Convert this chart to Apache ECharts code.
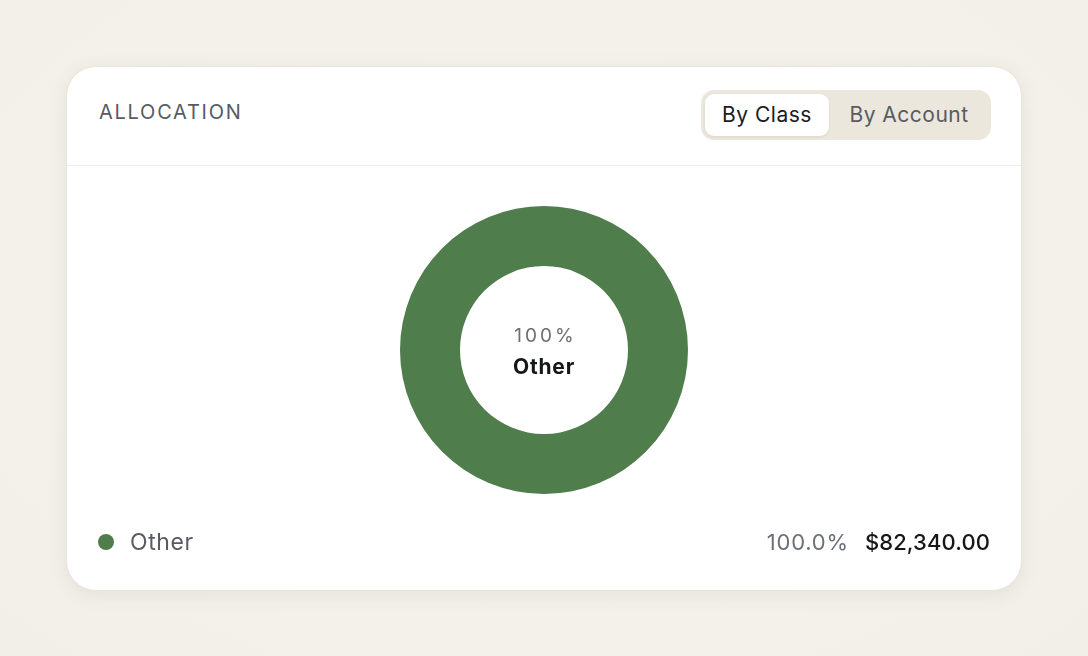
<!DOCTYPE html>
<html>
<head>
<meta charset="utf-8">
<script src="https://cdn.jsdelivr.net/npm/echarts@6/dist/echarts.min.js"></script>
<style>
  html,body{margin:0;padding:0;width:1088px;height:656px;overflow:hidden;
    background:radial-gradient(ellipse at 50% 45%, #f6f4ee 0%, #f1efe7 100%);
    font-family:Inter,"Noto Sans",sans-serif;}
  .card{position:absolute;left:66px;top:66px;width:954px;height:523px;background:#fff;
    border:1px solid #e9e5db;border-radius:30px;box-shadow:0 4px 18px rgba(120,110,80,0.10);}
  .hdr{position:absolute;left:0;top:0;width:100%;height:98px;border-bottom:1.5px solid #f0ede6;}
  .title{position:absolute;left:32px;top:33px;font-size:20px;letter-spacing:1.75px;color:#575b63;font-weight:400;}
  .toggle{position:absolute;left:634px;top:23px;width:290px;height:50px;background:#ece7dd;border-radius:13px;}
  .tab{position:absolute;top:4px;height:42px;line-height:42px;font-size:21px;text-align:center;letter-spacing:0.5px;}
  .t1{left:4px;width:124px;background:#fff;border-radius:9px;color:#1b1c1e;box-shadow:0 1px 3px rgba(0,0,0,0.08);}
  .t2{left:130px;width:156px;color:#575b63;}
  #chart{position:absolute;left:0;top:0;width:1088px;height:656px;}
  .center{position:absolute;left:444px;top:320px;width:200px;text-align:center;pointer-events:none;}
  .cp{font-size:19px;letter-spacing:3px;color:#6b6f76;line-height:32px;padding-left:3px;}
  .cn{font-size:21px;font-weight:700;letter-spacing:0.8px;color:#16171a;line-height:30px;}
  .leg{position:absolute;left:98px;top:526px;width:892px;height:32px;font-size:22px;line-height:32px;}
  .dot{position:absolute;left:0;top:8px;width:16px;height:16px;border-radius:50%;}
  .lname{position:absolute;left:32px;top:0;color:#575b63;font-size:23px;letter-spacing:0.6px;}
  .lright{position:absolute;right:0;top:0;}
  .lpct{color:#6b6f76;margin-right:16px;letter-spacing:0.8px;}
  .lval{color:#16171a;font-weight:500;letter-spacing:0.1px;}
</style>
</head>
<body>
<div class="card">
  <div class="hdr">
    <div class="title">ALLOCATION</div>
    <div class="toggle"><div class="tab t1">By Class</div><div class="tab t2">By Account</div></div>
  </div>
</div>
<div id="chart"></div>
<div class="center" id="center"></div>
<div class="leg" id="leg"></div>
<script>
const categories = ["Other"];
const values = [82340.00];
const colors = ["#4f7d4b"];

const total = values.reduce((a,b)=>a+b,0);
const leg = document.getElementById('leg');
categories.forEach((c,i)=>{
  const pct = (values[i]/total*100).toFixed(1)+'%';
  const val = '$'+values[i].toLocaleString('en-US',{minimumFractionDigits:2,maximumFractionDigits:2});
  leg.innerHTML += '<div class="dot" style="background:'+colors[i]+'"></div><div class="lname">'+c+'</div>'+
    '<div class="lright"><span class="lpct">'+pct+'</span><span class="lval">'+val+'</span></div>';
});
// center label: largest category
let topIdx = 0;
values.forEach((v,i)=>{ if(v>values[topIdx]) topIdx=i; });
document.getElementById('center').innerHTML =
  '<div class="cp">'+Math.round(values[topIdx]/total*100)+'%</div><div class="cn">'+categories[topIdx]+'</div>';

const chart = echarts.init(document.getElementById('chart'), null, {renderer:'canvas'});
chart.setOption({
  backgroundColor:'transparent',
  animation:false,
  series:[{
    type:'pie',
    center:[544,350],
    radius:[84,144],
    silent:true,
    itemStyle:{borderWidth:0},
    label:{show:false},
    labelLine:{show:false},
    data: categories.map((c,i)=>({name:c,value:values[i],itemStyle:{color:colors[i]}}))
  }]
});
</script>
</body>
</html>
